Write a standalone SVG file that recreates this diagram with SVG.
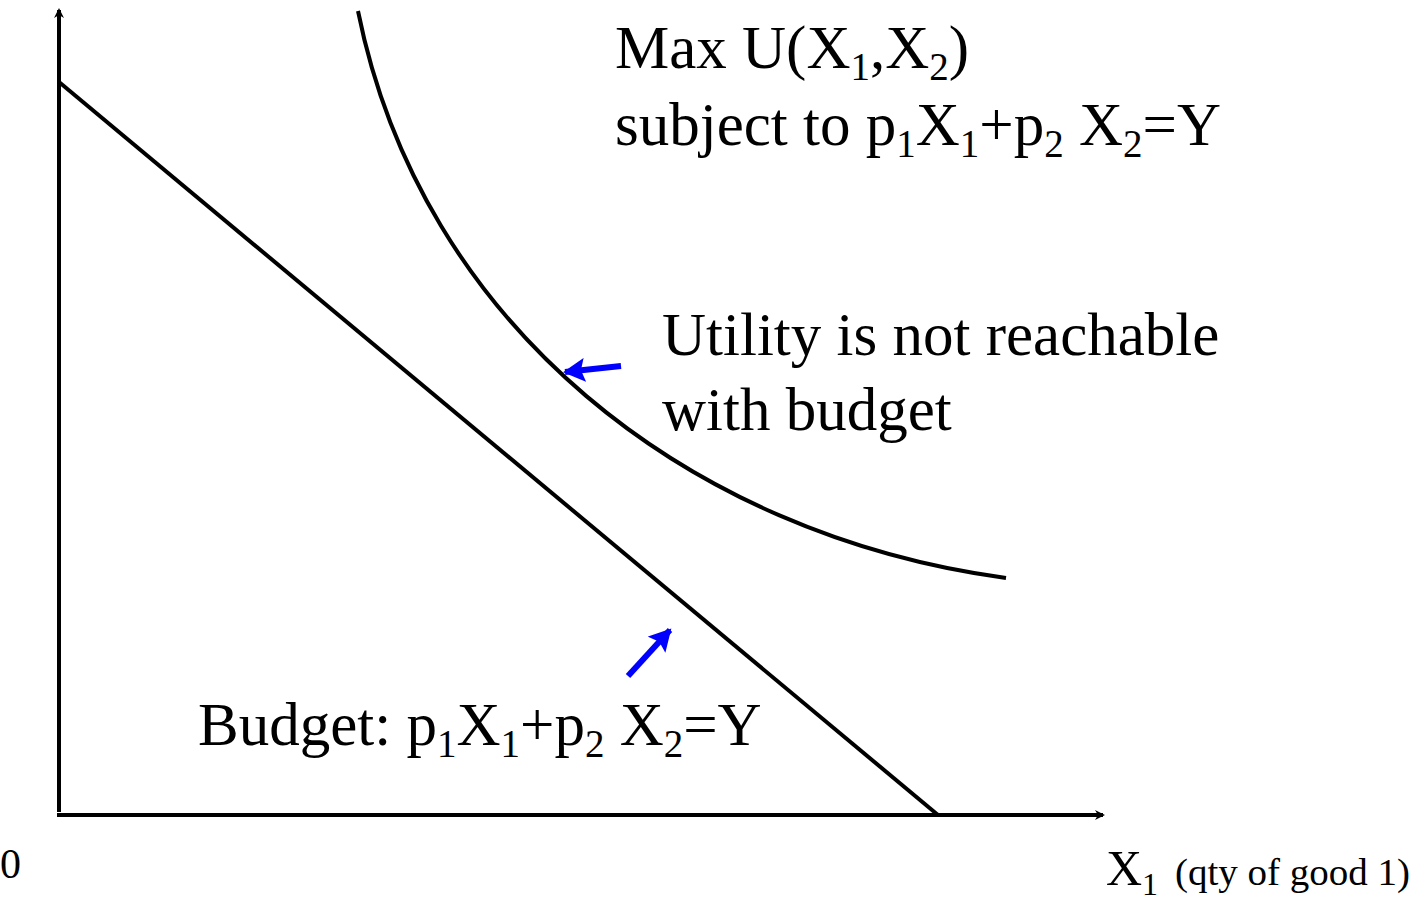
<svg xmlns="http://www.w3.org/2000/svg" width="1419" height="900" viewBox="0 0 1419 900">
<style>
.t{font-family:"Liberation Serif","Times New Roman",serif;fill:#000;font-size:61px}
.s{font-size:39px}
.ax{stroke:#000;stroke-width:4;fill:none}
.ln{stroke:#000;stroke-width:4;fill:none;stroke-linejoin:round}
.bl{stroke:#0000ff;stroke-width:6;fill:none}
</style>
<defs>
<marker id="ak" markerWidth="10" markerHeight="10" refX="8" refY="5" orient="auto" markerUnits="userSpaceOnUse" viewBox="0 0 10 10">
<path d="M0,0 L10,5 L0,10 L3,5 z" fill="#000"/>
</marker>
<marker id="ab" markerWidth="24" markerHeight="24" refX="20" refY="12" orient="auto" markerUnits="userSpaceOnUse" viewBox="0 0 24 24">
<path d="M0,0 L22,12 L0,24 L4,12 z" fill="#0000ff"/>
</marker>
</defs>
<g id="connectors">
<line class="ax" x1="59" y1="812" x2="59" y2="10" marker-end="url(#ak)"/>
<line class="ax" x1="57" y1="815" x2="1103" y2="815" marker-end="url(#ak)"/>
<line class="ln" x1="59" y1="82" x2="938" y2="815"/>
<path class="ln" d="M358,11 C421,325 688,535 1006,578"/>
<line class="bl" x1="621" y1="366" x2="565" y2="372" marker-end="url(#ab)"/>
<line class="bl" x1="628" y1="676" x2="670" y2="630" marker-end="url(#ab)"/>
</g>
<g id="title">
<text class="t" x="615" y="68">Max U(X<tspan class="s" dy="12">1</tspan><tspan dy="-12">,X</tspan><tspan class="s" dy="12">2</tspan><tspan dy="-12">)</tspan></text>
<text class="t" x="615" y="145">subject to p<tspan class="s" dy="12">1</tspan><tspan dy="-12">X</tspan><tspan class="s" dy="12">1</tspan><tspan dy="-12">+p</tspan><tspan class="s" dy="12">2</tspan><tspan dy="-12"> X</tspan><tspan class="s" dy="12">2</tspan><tspan dy="-12">=Y</tspan></text>
</g>
<g id="utility-label">
<text class="t" x="662" y="355">Utility is not reachable</text>
<text class="t" x="662" y="430">with budget</text>
</g>
<g id="budget-label">
<text class="t" x="198" y="745">Budget: p<tspan class="s" dy="12">1</tspan><tspan dy="-12">X</tspan><tspan class="s" dy="12">1</tspan><tspan dy="-12">+p</tspan><tspan class="s" dy="12">2</tspan><tspan dy="-12"> X</tspan><tspan class="s" dy="12">2</tspan><tspan dy="-12">=Y</tspan></text>
</g>
<g id="axis-labels">
<text class="t" x="0" y="878" style="font-size:42px">0</text>
<text class="t" x="1106" y="885" style="font-size:50px">X<tspan class="s" dy="10" style="font-size:32px">1</tspan><tspan dy="-10" style="font-size:38px" x="1175" textLength="235" lengthAdjust="spacingAndGlyphs">(qty of good 1)</tspan></text>
</g>
</svg>
